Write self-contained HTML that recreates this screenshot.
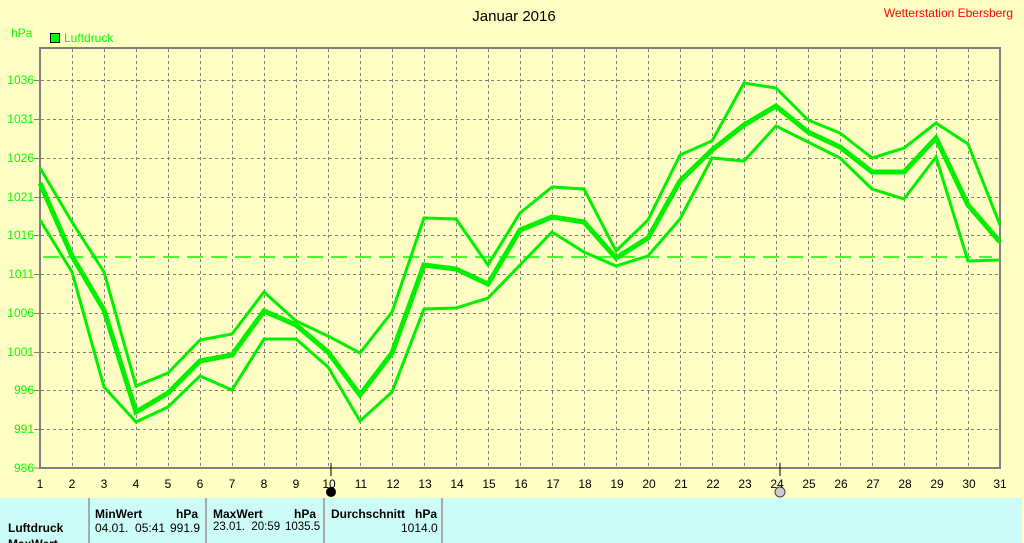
<!DOCTYPE html>
<html><head><meta charset="utf-8"><style>
body{margin:0;width:1024px;height:543px;overflow:hidden;background:#ffffc4;font-family:"Liberation Sans",sans-serif}
svg{position:absolute;left:0;top:0}
.tbl{position:absolute;left:0;top:498px;width:1022px;height:45px;background:#ccfcf8;overflow:hidden}
.tbl div{position:absolute;font-size:12px;color:#000}
.b{font-weight:bold}
.sep{position:absolute;top:0;width:2px;height:45px;background:#aaa}
</style></head><body>
<svg width="1024" height="498" viewBox="0 0 1024 498">
<g stroke="#808080" stroke-width="1" stroke-dasharray="3,3" shape-rendering="crispEdges">
<line x1="72.5" y1="49" x2="72.5" y2="467"/><line x1="104.5" y1="49" x2="104.5" y2="467"/><line x1="136.5" y1="49" x2="136.5" y2="467"/><line x1="168.5" y1="49" x2="168.5" y2="467"/><line x1="200.5" y1="49" x2="200.5" y2="467"/><line x1="232.5" y1="49" x2="232.5" y2="467"/><line x1="264.5" y1="49" x2="264.5" y2="467"/><line x1="296.5" y1="49" x2="296.5" y2="467"/><line x1="328.5" y1="49" x2="328.5" y2="467"/><line x1="360.5" y1="49" x2="360.5" y2="467"/><line x1="392.5" y1="49" x2="392.5" y2="467"/><line x1="424.5" y1="49" x2="424.5" y2="467"/><line x1="456.5" y1="49" x2="456.5" y2="467"/><line x1="488.5" y1="49" x2="488.5" y2="467"/><line x1="520.5" y1="49" x2="520.5" y2="467"/><line x1="552.5" y1="49" x2="552.5" y2="467"/><line x1="584.5" y1="49" x2="584.5" y2="467"/><line x1="616.5" y1="49" x2="616.5" y2="467"/><line x1="648.5" y1="49" x2="648.5" y2="467"/><line x1="680.5" y1="49" x2="680.5" y2="467"/><line x1="712.5" y1="49" x2="712.5" y2="467"/><line x1="744.5" y1="49" x2="744.5" y2="467"/><line x1="776.5" y1="49" x2="776.5" y2="467"/><line x1="808.5" y1="49" x2="808.5" y2="467"/><line x1="840.5" y1="49" x2="840.5" y2="467"/><line x1="872.5" y1="49" x2="872.5" y2="467"/><line x1="904.5" y1="49" x2="904.5" y2="467"/><line x1="936.5" y1="49" x2="936.5" y2="467"/><line x1="968.5" y1="49" x2="968.5" y2="467"/>
<line x1="41" y1="80.5" x2="999" y2="80.5"/><line x1="41" y1="119.5" x2="999" y2="119.5"/><line x1="41" y1="158.5" x2="999" y2="158.5"/><line x1="41" y1="197.5" x2="999" y2="197.5"/><line x1="41" y1="235.5" x2="999" y2="235.5"/><line x1="41" y1="274.5" x2="999" y2="274.5"/><line x1="41" y1="313.5" x2="999" y2="313.5"/><line x1="41" y1="352.5" x2="999" y2="352.5"/><line x1="41" y1="390.5" x2="999" y2="390.5"/><line x1="41" y1="429.5" x2="999" y2="429.5"/>
</g>
<path d="M40,468 V48 H1000 V468 Z" fill="none" stroke="#808080" stroke-width="2" shape-rendering="crispEdges"/>
<g stroke="#808080" stroke-width="1" shape-rendering="crispEdges">
<line x1="34" y1="80.5" x2="40" y2="80.5"/><line x1="34" y1="119.5" x2="40" y2="119.5"/><line x1="34" y1="158.5" x2="40" y2="158.5"/><line x1="34" y1="197.5" x2="40" y2="197.5"/><line x1="34" y1="235.5" x2="40" y2="235.5"/><line x1="34" y1="274.5" x2="40" y2="274.5"/><line x1="34" y1="313.5" x2="40" y2="313.5"/><line x1="34" y1="352.5" x2="40" y2="352.5"/><line x1="34" y1="390.5" x2="40" y2="390.5"/><line x1="34" y1="429.5" x2="40" y2="429.5"/><line x1="34" y1="468" x2="40" y2="468"/>
</g>
<line x1="43" y1="257" x2="992" y2="257" stroke="#00ff00" stroke-width="1.5" stroke-dasharray="16,8"/>
<g fill="none" stroke="#00f000" stroke-linejoin="miter">
<polyline stroke-width="3" points="40,168 72,222 104,272 136,386 168,373 200,340 232,334 264,292 296,321 328,336 360,353 392,312 424,218 456,219 488,265 520,213 552,187 584,189 616,251 648,220 680,155 712,141 744,83 776,88 808,120 840,133 872,158 904,148 936,123 968,144 1000,225"/>
<polyline stroke-width="5" points="40,183 72,256 104,310 136,412 168,393 200,361 232,355 264,311 296,325 328,352 360,395 392,353 424,265 456,269 488,284 520,230 552,217 584,222 616,258 648,238 680,181 712,150 744,125 776,106 808,132 840,147 872,172 904,172 936,138 968,205 1000,242"/>
<polyline stroke-width="3" points="40,220 72,272 104,387 136,422 168,407 200,376 232,390 264,339 296,339 328,367 360,421 392,392 424,309 456,308 488,298 520,265 552,232 584,252 616,266 648,256 680,219 712,158 744,161 776,126 808,142 840,158 872,189 904,199 936,157 968,261 1000,260"/>
</g>
<line x1="331" y1="463" x2="331" y2="476" stroke="#000" stroke-width="1"/>
<line x1="780" y1="463" x2="780" y2="476" stroke="#000" stroke-width="1"/>
<circle cx="331" cy="492" r="5" fill="#000"/>
<circle cx="780" cy="492" r="5" fill="#ccc" stroke="#444"/>
<g font-family="Liberation Sans" font-size="12" fill="#00ff00" text-anchor="end">
<text x="34" y="84">1036</text><text x="34" y="123">1031</text><text x="34" y="162">1026</text><text x="34" y="201">1021</text><text x="34" y="239">1016</text><text x="34" y="278">1011</text><text x="34" y="317">1006</text><text x="34" y="356">1001</text><text x="34" y="394">996</text><text x="34" y="433">991</text><text x="34" y="472">986</text>
</g>
<text x="11" y="37" font-size="12" fill="#00ff00" font-family="Liberation Sans">hPa</text>
<rect x="50.5" y="33.5" width="9" height="9" fill="#00ff00" stroke="#000"/>
<text x="64" y="42" font-size="12" fill="#00ff00" font-family="Liberation Sans">Luftdruck</text>
<text x="514" y="21" font-size="15" fill="#000" text-anchor="middle" font-family="Liberation Sans">Januar 2016</text>
<text x="1013" y="17" font-size="12" fill="#ff0000" text-anchor="end" font-family="Liberation Sans">Wetterstation Ebersberg</text>
<g font-family="Liberation Sans" font-size="12" fill="#000" text-anchor="middle">
<text x="40" y="488">1</text><text x="72" y="488">2</text><text x="104" y="488">3</text><text x="136" y="488">4</text><text x="168" y="488">5</text><text x="200" y="488">6</text><text x="232" y="488">7</text><text x="264" y="488">8</text><text x="296" y="488">9</text><text x="329" y="488">10</text><text x="361" y="488">11</text><text x="393" y="488">12</text><text x="425" y="488">13</text><text x="457" y="488">14</text><text x="489" y="488">15</text><text x="521" y="488">16</text><text x="553" y="488">17</text><text x="585" y="488">18</text><text x="617" y="488">19</text><text x="649" y="488">20</text><text x="681" y="488">21</text><text x="713" y="488">22</text><text x="745" y="488">23</text><text x="777" y="488">24</text><text x="809" y="488">25</text><text x="841" y="488">26</text><text x="873" y="488">27</text><text x="905" y="488">28</text><text x="937" y="488">29</text><text x="969" y="488">30</text><text x="1000" y="488">31</text>
</g>
</svg>
<div class="tbl">
<div class="sep" style="left:88px"></div><div class="sep" style="left:205px"></div><div class="sep" style="left:323px"></div><div class="sep" style="left:441px"></div>
<div class="b" style="left:8px;top:23px">Luftdruck</div>
<div class="b" style="left:8px;top:39px">MaxWert</div>
<div class="b" style="left:95px;top:9px">MinWert</div><div class="b" style="left:176px;top:9px">hPa</div>
<div style="left:95px;top:23px">04.01.&nbsp; 05:41</div><div style="left:170px;top:23px">991.9</div>
<div class="b" style="left:213px;top:9px">MaxWert</div><div class="b" style="left:294px;top:9px">hPa</div>
<div style="left:213px;top:23px;font-size:11.5px">23.01.&nbsp; 20:59</div><div style="left:285px;top:23px;font-size:11.5px">1035.5</div>
<div class="b" style="left:331px;top:9px">Durchschnitt&nbsp;&nbsp; hPa</div>
<div style="left:401px;top:23px">1014.0</div>
</div>
</body></html>
